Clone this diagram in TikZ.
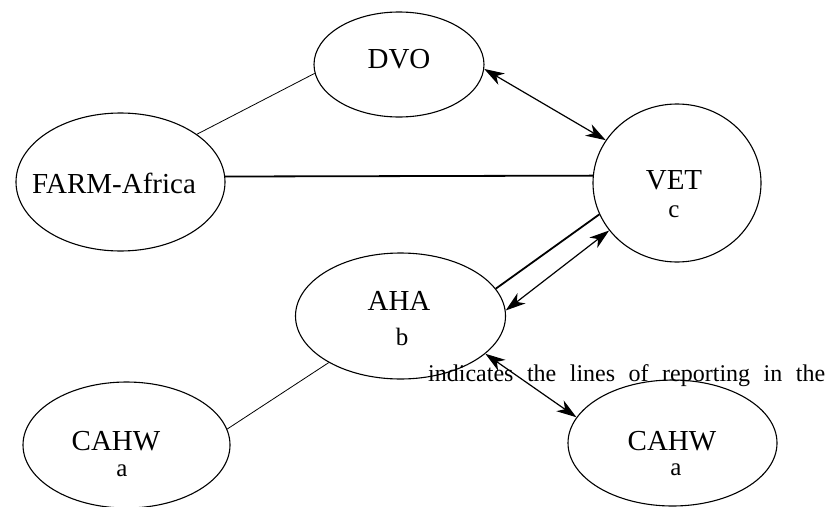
\documentclass[tikz,border=0pt]{standalone}
\usepackage{fontspec}
\setmainfont{Liberation Serif}
\usetikzlibrary{shapes.geometric,arrows.meta}
\tikzset{
  oval/.style={draw, ellipse, inner sep=0pt, line width=1.1pt},
  bigtxt/.style={anchor=base, inner sep=0pt, font=\fontsize{29}{34}\selectfont},
  smalltxt/.style={anchor=base, inner sep=0pt, font=\fontsize{25}{30}\selectfont},
  thinline/.style={line width=0.8pt},
  thickline/.style={line width=1.8pt},
  dblarrow/.style={line width=1.2pt, {Stealth[length=20pt,width=13pt,inset=6pt]}-{Stealth[length=20pt,width=13pt,inset=6pt]}}
}
\begin{document}
\begin{tikzpicture}[x=1pt,y=-1pt]
\useasboundingbox (0,0) rectangle (829,506);
% ellipses
\node[oval, minimum width=209pt, minimum height=138pt] (farm) at (120.5,182) {};
\node[oval, minimum width=170pt, minimum height=105pt] (dvo) at (399,64.5) {};
\node[oval, minimum width=168pt, minimum height=158pt] (vet) at (677,183) {};
\node[oval, minimum width=210pt, minimum height=126pt] (aha) at (400.5,316) {};
\node[oval, minimum width=207pt, minimum height=126pt] (cahwl) at (126.5,445) {};
\node[oval, minimum width=209pt, minimum height=126pt] (cahwr) at (672.5,443) {};
% labels
\node[bigtxt] (farmt) at (114,193) {FARM-Africa};
\node[bigtxt] (dvot) at (399,68) {DVO};
\node[bigtxt] (vett) at (674,189) {VET};
\node[smalltxt] (vetc) at (674,217) {c};
\node[bigtxt] (ahat) at (399,310) {AHA};
\node[smalltxt] (ahab) at (402,345) {b};
\node[bigtxt] (cahwlt) at (116,450) {CAHW};
\node[smalltxt] (cahwla) at (122,476) {a};
\node[bigtxt] (cahwrt) at (672,450) {CAHW};
\node[smalltxt] (cahwra) at (676,475) {a};
\node[anchor=base west, inner sep=0pt, font=\fontsize{24}{28}\selectfont] (note) at (428,381)
  {\makebox[397pt][s]{indicates the lines of reporting in the}};
% connectors
\draw[thinline] (farm.32.3) -- (dvo.186.5);
\draw[thickline] (farm.3.3) -- (vet.175.2);
\draw[dblarrow] (dvo.357) -- (vet.149.7);
\draw[thickline] (aha.16.5) -- (vet.202.3);
\draw[dblarrow] (aha.3.3) -- (vet.215.8);
\draw[dblarrow] (aha.336.6) -- (cahwr.165.9);
\draw[thinline] (aha.213.7) -- (cahwl.9.4);
\end{tikzpicture}
\end{document}
